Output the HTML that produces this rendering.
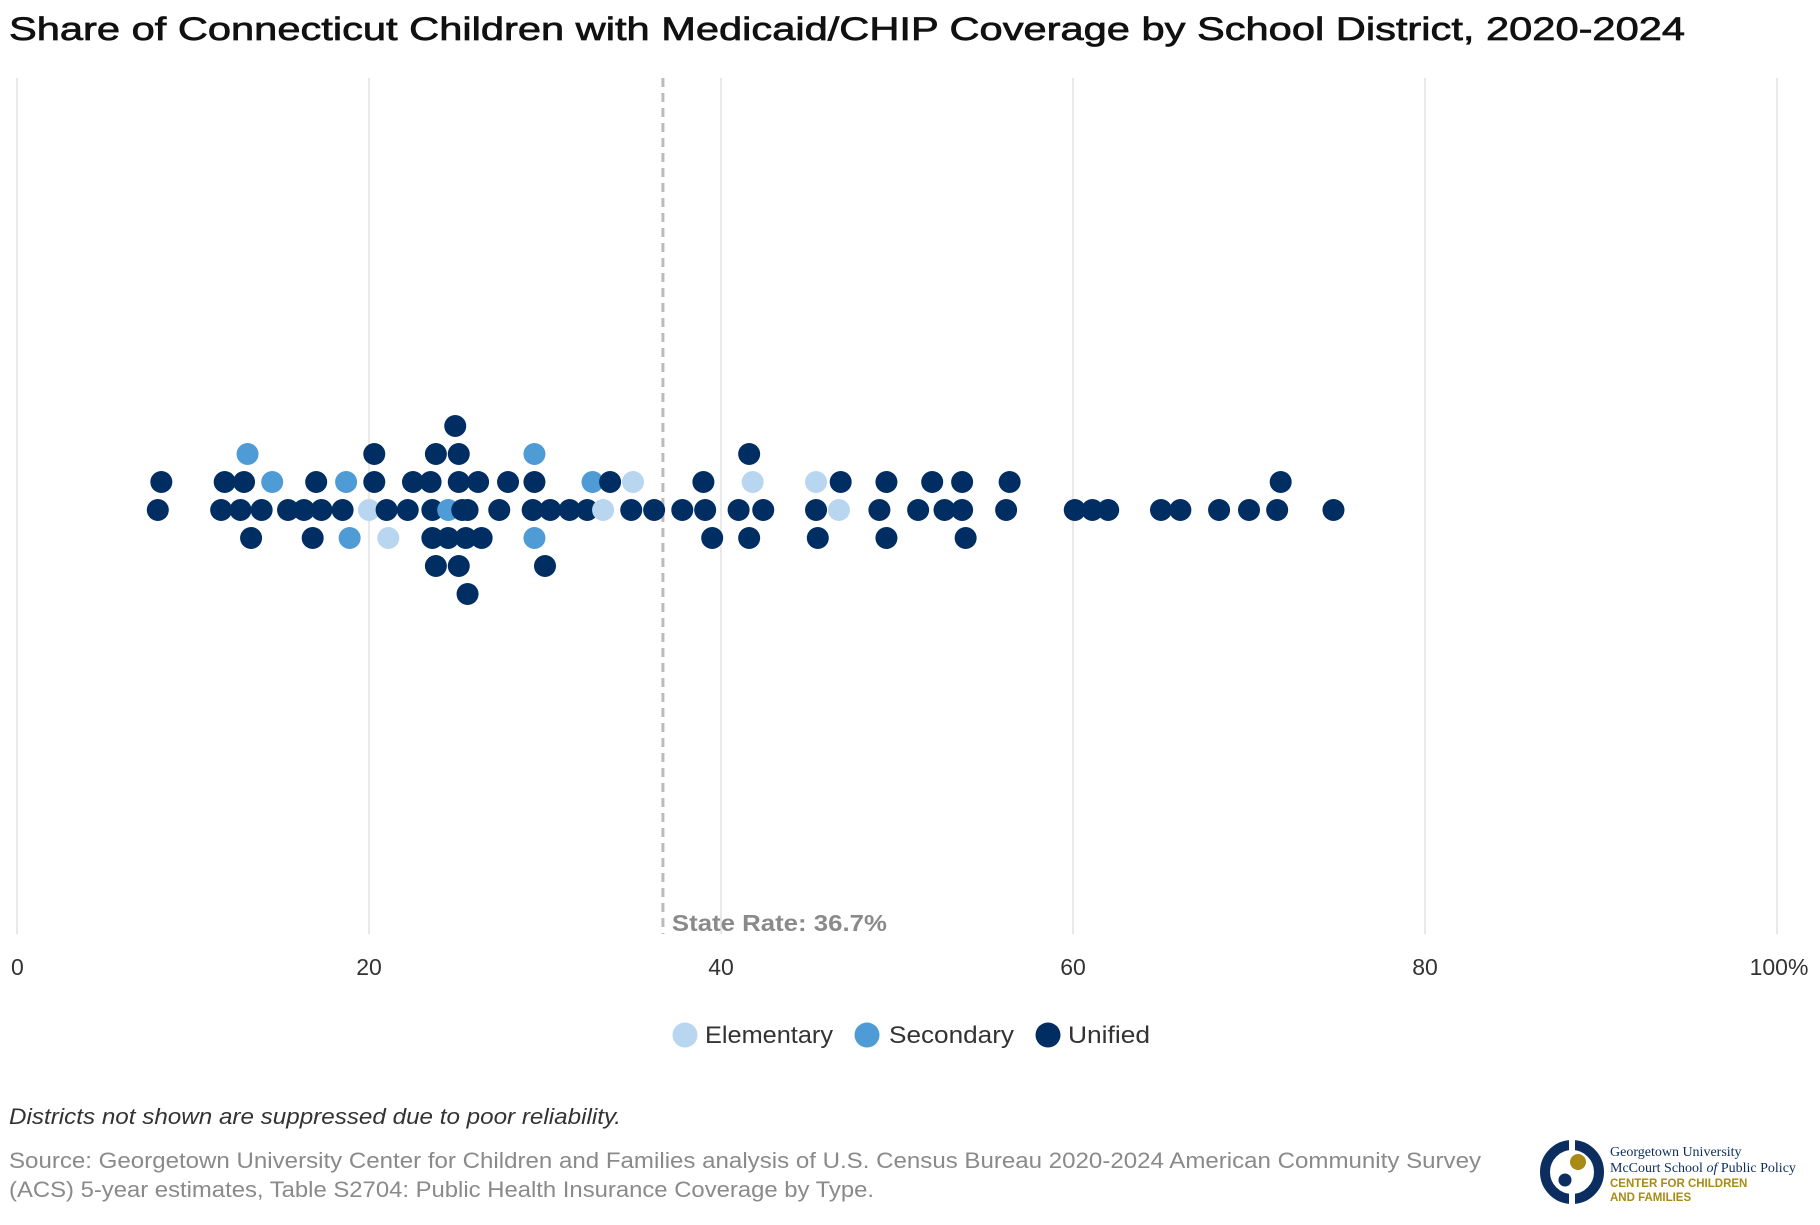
<!DOCTYPE html>
<html><head><meta charset="utf-8">
<style>
body{margin:0;background:#fff;width:1820px;height:1220px;overflow:hidden;font-family:"Liberation Sans",sans-serif;}
</style></head>
<body>
<svg id="chart" width="1820" height="1220" xmlns="http://www.w3.org/2000/svg">
<text x="9" y="40" font-size="32" fill="#111" stroke="#111" stroke-width="0.7" font-family="Liberation Sans, sans-serif" textLength="1676" lengthAdjust="spacingAndGlyphs">Share of Connecticut Children with Medicaid/CHIP Coverage by School District, 2020-2024</text>
<g id="grid"></g>
<g id="refline"></g>
<g id="dots"></g>
<g id="xticks"></g>
<g font-size="24" fill="#333" font-family="Liberation Sans, sans-serif">
 <g><circle cx="685" cy="1035" r="12.5" fill="#b8d6f0"/><text x="705" y="1043" textLength="128" lengthAdjust="spacingAndGlyphs">Elementary</text></g>
 <g><circle cx="867" cy="1035" r="12.5" fill="#4e9bd5"/><text x="889" y="1043" textLength="125" lengthAdjust="spacingAndGlyphs">Secondary</text></g>
 <g><circle cx="1048" cy="1035" r="12.5" fill="#002d62"/><text x="1068" y="1043" textLength="82" lengthAdjust="spacingAndGlyphs">Unified</text></g>
</g>
<text x="9" y="1124" font-size="22" font-style="italic" fill="#333" textLength="612" lengthAdjust="spacingAndGlyphs">Districts not shown are suppressed due to poor reliability.</text>
<text x="9" y="1168" font-size="22" fill="#8a8a8a" textLength="1472" lengthAdjust="spacingAndGlyphs">Source: Georgetown University Center for Children and Families analysis of U.S. Census Bureau 2020-2024 American Community Survey</text>
<text x="9" y="1197" font-size="22" fill="#8a8a8a" textLength="865" lengthAdjust="spacingAndGlyphs">(ACS) 5-year estimates, Table S2704: Public Health Insurance Coverage by Type.</text>
<g>
 <circle cx="1572" cy="1172" r="27" fill="none" stroke="#0c2d5f" stroke-width="10"/>
 <rect x="1569" y="1140" width="6" height="64" fill="#fff"/>
 <circle cx="1578" cy="1162" r="8" fill="#a88a16"/>
 <circle cx="1565" cy="1180" r="6.5" fill="#0c2d5f"/>
 <text x="1610" y="1156" font-size="14" fill="#0c2d5f" font-family="Liberation Serif, serif">Georgetown University</text>
 <text x="1610" y="1172" font-size="14" fill="#0c2d5f" font-family="Liberation Serif, serif">McCourt School <tspan font-style="italic">of</tspan> Public Policy</text>
 <text x="1610" y="1187" font-size="11.5" fill="#a88a16" font-weight="bold">CENTER FOR CHILDREN</text>
 <text x="1610" y="1201" font-size="11.5" fill="#a88a16" font-weight="bold">AND FAMILIES</text>
</g>
</svg>
<script>
const ticks=[0,20,40,60,80,100];
const tickLabels=["0","20","40","60","80","100%"];
const stateRate=36.7;
const values=[8.0,11.6,12.7,13.9,15.4,16.3,17.0,18.5,20.0,21.0,22.2,23.6,24.5,25.1,25.6,26.2,27.4,29.3,30.3,31.4,32.4,33.3,34.9,36.2,37.8,39.1,41.0,42.4,45.4,46.7,49.0,51.2,52.0,53.7,56.2,60.1,61.1,62.0,65.0,66.1,68.3,70.0,71.6,74.8,
8.2,11.8,12.9,16.8,18.7,20.3,21.1,22.5,23.5,24.5,26.4,27.9,29.4,32.7,33.7,35.0,39.0,41.8,45.4,46.8,49.4,52.7,53.7,56.4,71.8,
13.3,23.8,25.5,29.4,25.1,14.5,41.6,25.1,
13.1,17.3,18.9,20.3,23.6,24.9,25.6,25.3,29.4,39.5,41.6,45.5,49.4,53.9,30.0,23.8];
const types=["U","U","U","U","U","U","U","U","E","U","U","U","S","U","U","U","U","U","U","U","U","E","U","U","U","U","U","U","U","E","U","U","U","U","U","U","U","U","U","U","U","U","U","U",
"U","U","U","U","S","U","E","U","U","U","U","U","U","S","U","E","U","E","E","U","U","U","U","U","U",
"U","U","U","S","U","S","U","U",
"S","U","S","U","U","U","U","U","S","U","U","U","U","U","U","U"];
const colors={E:"#b8d6f0",S:"#4e9bd5",U:"#002d62"};
const x0=17,x1=1777,yTop=78,yBot=934,yBase=510;
function xs(v){return x0+(v/100)*(x1-x0);}
const NS="http://www.w3.org/2000/svg";
const grid=document.getElementById('grid');
ticks.forEach((t,i)=>{
 const l=document.createElementNS(NS,'line');
 
 
 l.setAttribute('x1',xs(t));l.setAttribute('x2',xs(t));l.setAttribute('y1',yTop);l.setAttribute('y2',yBot);
 l.setAttribute('stroke','#e2e2e2');l.setAttribute('stroke-width','1.5');
 grid.appendChild(l);
 const tx=document.createElementNS(NS,'text');
 
 
 tx.setAttribute('x',t===0?xs(t)-6:xs(t)+(t===100?2:0));tx.setAttribute('y',975);
 tx.setAttribute('font-size','23');tx.setAttribute('fill','#333');
 tx.setAttribute('text-anchor',t===0?'start':'middle');
 tx.textContent=tickLabels[i];
 document.getElementById('xticks').appendChild(tx);
});
const rl=document.getElementById('refline');
const dl=document.createElementNS(NS,'line');


dl.setAttribute('x1',xs(stateRate));dl.setAttribute('x2',xs(stateRate));dl.setAttribute('y1',yTop);dl.setAttribute('y2',yBot);
dl.setAttribute('stroke','#bbb');dl.setAttribute('stroke-width','3');dl.setAttribute('stroke-dasharray','9,6');
rl.appendChild(dl);
const lt=document.createElementNS(NS,'text');


lt.setAttribute('x',xs(stateRate)+9);lt.setAttribute('y',931);lt.setAttribute('font-size','23');lt.setAttribute('font-weight','bold');lt.setAttribute('fill','#8a8a8a');
lt.setAttribute('textLength','215');lt.setAttribute('lengthAdjust','spacingAndGlyphs');
lt.textContent='State Rate: '+stateRate+'%';
rl.appendChild(lt);
const rows={};const rowOrder=[0,-1,1,-2,2,-3,3];
const dots=document.getElementById('dots');
values.forEach((v,i)=>{
 const px=xs(v);let row=0;
 for(const r of rowOrder){const arr=rows[r]||[];if(arr.every(p=>Math.abs(p-px)>=15)){row=r;break;}}
 (rows[row]=rows[row]||[]).push(px);
 const c=document.createElementNS(NS,'circle');
 
 
 c.setAttribute('cx',px);c.setAttribute('cy',yBase+row*28);c.setAttribute('r','11');
 c.setAttribute('fill',colors[types[i]]);
 dots.appendChild(c);
});
</script>
</body></html>
